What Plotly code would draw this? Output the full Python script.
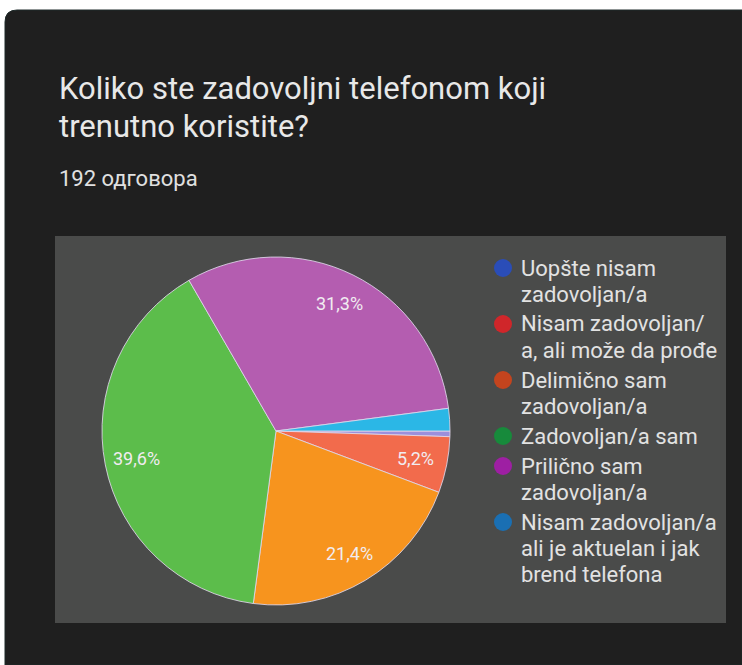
import math
from decimal import Decimal, ROUND_HALF_UP
import plotly.graph_objects as go

# Survey data (192 answers), in the form's own order
labels = [
    "Uopšte nisam zadovoljan/a",
    "Nisam zadovoljan/a, ali može da prođe",
    "Delimično sam zadovoljan/a",
    "Zadovoljan/a sam",
    "Prilično sam zadovoljan/a",
    "Nisam zadovoljan/a ali je aktuelan i jak brend telefona",
]
counts = [1, 10, 41, 76, 60, 4]

# legend text as it is wrapped in the picture
legend_lines = [
    ["Uopšte nisam", "zadovoljan/a"],
    ["Nisam zadovoljan/", "a, ali može da prođe"],
    ["Delimično sam", "zadovoljan/a"],
    ["Zadovoljan/a sam"],
    ["Prilično sam", "zadovoljan/a"],
    ["Nisam zadovoljan/a", "ali je aktuelan i jak", "brend telefona"],
]

slice_colors = ["#9c8fdc", "#f26b4c", "#f7941e", "#5cbd4b", "#b45db0", "#2bb7e6"]
legend_colors = ["#2a4db8", "#d0262a", "#c4441e", "#178a3b", "#9e1fa3", "#1a6fb3"]

title_lines = ["Koliko ste zadovoljni telefonom koji", "trenutno koristite?"]
subtitle = f"{sum(counts)} одговора"

W, H = 742, 665
CX, CY, R = 276, 431, 174   # pie centre / radius in px
ROT = 90


def px(x):
    return x / W


def py(y):
    return 1 - y / H


def pct(share):
    d = Decimal(str(share * 100)).quantize(Decimal("0.1"), rounding=ROUND_HALF_UP)
    return f"{d}%".replace(".", ",")


FONT = "Roboto, Noto Sans, sans-serif"

fig = go.Figure(go.Pie(
    labels=labels,
    values=counts,
    sort=False,
    direction="clockwise",
    rotation=ROT,
    marker=dict(colors=slice_colors, line=dict(color="rgba(225,215,235,0.85)", width=1)),
    textinfo="none",
    hoverinfo="label+percent+value",
    domain=dict(x=[px(CX - R), px(CX + R)], y=[py(CY + R), py(CY - R)]),
    showlegend=False,
))

shapes = [
    # card with rounded top-left corner
    dict(type="path", xref="paper", yref="paper",
         path=f"M {px(5)},{py(665)} L {px(5)},{py(22)} Q {px(5)},{py(10)} {px(17)},{py(10)} "
              f"L {px(742)},{py(10)} L {px(742)},{py(665)} Z",
         fillcolor="#1f1f1f", line=dict(color="#1e2a2a", width=1), layer="below"),
    # grey chart panel
    dict(type="rect", xref="paper", yref="paper",
         x0=px(55), x1=px(726), y0=py(623), y1=py(236),
         fillcolor="#4a4b4a", line=dict(width=0), layer="below"),
]

annotations = []
for i, line in enumerate(title_lines):
    annotations.append(dict(
        text=line, x=px(57), y=py(88 + i * 38), xref="paper", yref="paper",
        xanchor="left", yanchor="middle", showarrow=False,
        font=dict(family=FONT, size=31, color="#e8e8e8"),
    ))
annotations.append(dict(
    text=subtitle, x=px(57), y=py(178), xref="paper", yref="paper",
    xanchor="left", yanchor="middle", showarrow=False,
    font=dict(family=FONT, size=22, color="#e0e0e0"),
))

# percentage labels inside the bigger slices
total = sum(counts)
cum = 0
for c in counts:
    share = c / total
    if share > 0.04:
        a = math.radians(ROT + 360 * (cum + c / 2) / total)
        lx = CX + 0.82 * R * math.sin(a)
        ly = CY - 0.82 * R * math.cos(a)
        annotations.append(dict(
            text=pct(share),
            x=px(lx), y=py(ly), xref="paper", yref="paper",
            xanchor="center", yanchor="middle", showarrow=False,
            font=dict(family=FONT, size=18, color="#f1ecf1"),
        ))
    cum += c

# hand-drawn legend: dot + wrapped text
y = 268
for lines, col in zip(legend_lines, legend_colors):
    shapes.append(dict(
        type="circle", xref="paper", yref="paper",
        x0=px(494), x1=px(512), y0=py(y + 9), y1=py(y - 9),
        fillcolor=col, line=dict(width=0),
    ))
    for k, t in enumerate(lines):
        annotations.append(dict(
            text=t, x=px(519), y=py(y + k * 26), xref="paper", yref="paper",
            xanchor="left", yanchor="middle", showarrow=False,
            font=dict(family=FONT, size=22, color="#e2e2e2"),
        ))
    y += (len(lines) - 1) * 26 + 30

fig.update_layout(
    width=W,
    height=H,
    margin=dict(l=0, r=0, t=0, b=0),
    paper_bgcolor="#ffffff",
    plot_bgcolor="#ffffff",
    shapes=shapes,
    annotations=annotations,
)

# drop the browser's default body margin so the figure sits at 0,0
fig.write_html("out.html", config={"displayModeBar": False},
               post_script="document.body.style.margin='0';")
